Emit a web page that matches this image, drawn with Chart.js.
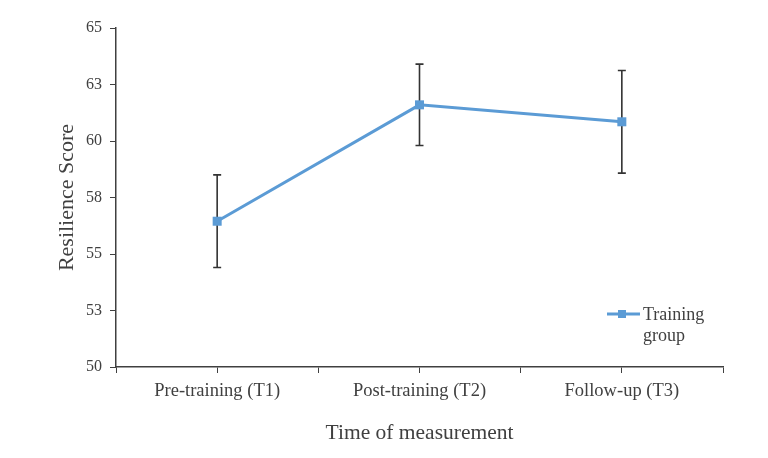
<!DOCTYPE html>
<html>
<head>
<meta charset="utf-8">
<script src="https://cdn.jsdelivr.net/npm/chart.js@4/dist/chart.umd.min.js"></script>
<style>
html,body{margin:0;padding:0;background:#fff;}
#wrap{width:768px;height:458px;position:relative;}
</style>
</head>
<body>
<div id="wrap"><canvas id="c" width="768" height="458"></canvas></div>
<script>
const categories = ['Pre-training (T1)', 'Post-training (T2)', 'Follow-up (T3)'];
const means = [56.45, 61.6, 60.85];
const errors = [2.05, 1.8, 2.27];
const yTickLabels = ['50', '53', '55', '58', '60', '63', '65'];
const seriesName = ['Training', 'group'];

const points = categories.map((c, i) => ({x: i + 0.5, y: means[i]}));
const fontFam = '"Liberation Serif", "Times New Roman", serif';
const axisColor = '#404040';
const textColor = '#404040';
const lineColor = '#5B9BD5';

const errorBars = {
  id: 'errorBars',
  afterDatasetsDraw(chart) {
    const ctx = chart.ctx, xs = chart.scales.x, ys = chart.scales.y;
    ctx.save();
    ctx.strokeStyle = '#333';
    ctx.lineWidth = 1.6;
    means.forEach((m, i) => {
      const x = xs.getPixelForValue(i + 0.5);
      const yt = ys.getPixelForValue(m + errors[i]);
      const yb = ys.getPixelForValue(m - errors[i]);
      ctx.beginPath();
      ctx.moveTo(x, yt); ctx.lineTo(x, yb);
      ctx.moveTo(x - 4, yt); ctx.lineTo(x + 4, yt);
      ctx.moveTo(x - 4, yb); ctx.lineTo(x + 4, yb);
      ctx.stroke();
    });
    const meta = chart.getDatasetMeta(0);
    ctx.fillStyle = lineColor;
    meta.data.forEach(p => { ctx.fillRect(p.x - 4.5, p.y - 4.5, 9, 9); });
    ctx.restore();
  }
};

const customLegend = {
  id: 'customLegend',
  afterDraw(chart) {
    const ctx = chart.ctx;
    ctx.save();
    ctx.strokeStyle = lineColor; ctx.lineWidth = 3;
    ctx.beginPath(); ctx.moveTo(607, 314); ctx.lineTo(640, 314); ctx.stroke();
    ctx.fillStyle = lineColor; ctx.fillRect(618, 310, 8, 8);
    ctx.fillStyle = textColor;
    ctx.font = '18px ' + fontFam;
    ctx.textBaseline = 'middle'; ctx.textAlign = 'left';
    ctx.fillText(seriesName[0], 643, 315);
    ctx.fillText(seriesName[1], 643, 336);
    ctx.restore();
  }
};

new Chart(document.getElementById('c'), {
  type: 'line',
  data: {
    datasets: [{
      label: seriesName.join(' '),
      data: points,
      borderColor: lineColor,
      backgroundColor: lineColor,
      borderWidth: 3,
      pointStyle: 'rect',
      pointRadius: 4.5,
      pointBorderWidth: 0,
      tension: 0
    }]
  },
  options: {
    responsive: false,
    animation: false,
    layout: {padding: {left: 52, right: 45, top: 28, bottom: 0}},
    plugins: {legend: {display: false}, tooltip: {enabled: false}},
    scales: {
      x: {
        type: 'linear', min: 0, max: 3,
        afterBuildTicks(s) { s.ticks = [0,0.5,1,1.5,2,2.5,3].map(v => ({value: v})); },
        afterFit(s) { s.height = 91; },
        grid: {drawOnChartArea: false, color: axisColor, tickLength: 6, tickColor: axisColor},
        border: {color: axisColor, width: 1.5},
        ticks: {
          autoSkip: false, maxRotation: 0, padding: 7,
          color: textColor, font: {family: fontFam, size: 18.5},
          callback: (v) => { const i = v - 0.5; return Number.isInteger(i) ? categories[i] : ''; }
        },
        title: {display: true, text: 'Time of measurement', color: textColor,
          font: {family: fontFam, size: 21.5}, padding: {top: 4, bottom: 12}}
      },
      y: {
        min: 50, max: 65,
        afterFit(s) { s.width = 64; },
        grid: {drawOnChartArea: false, color: axisColor, tickLength: 6, tickColor: axisColor},
        border: {color: axisColor, width: 1.5},
        ticks: {
          stepSize: 2.5, padding: 8, color: textColor,
          font: {family: fontFam, size: 16},
          callback: (v, i) => yTickLabels[i]
        },
        title: {display: true, text: 'Resilience Score', color: textColor,
          font: {family: fontFam, size: 22}, padding: 2}
      }
    }
  },
  plugins: [errorBars, customLegend]
});
</script>
</body>
</html>
